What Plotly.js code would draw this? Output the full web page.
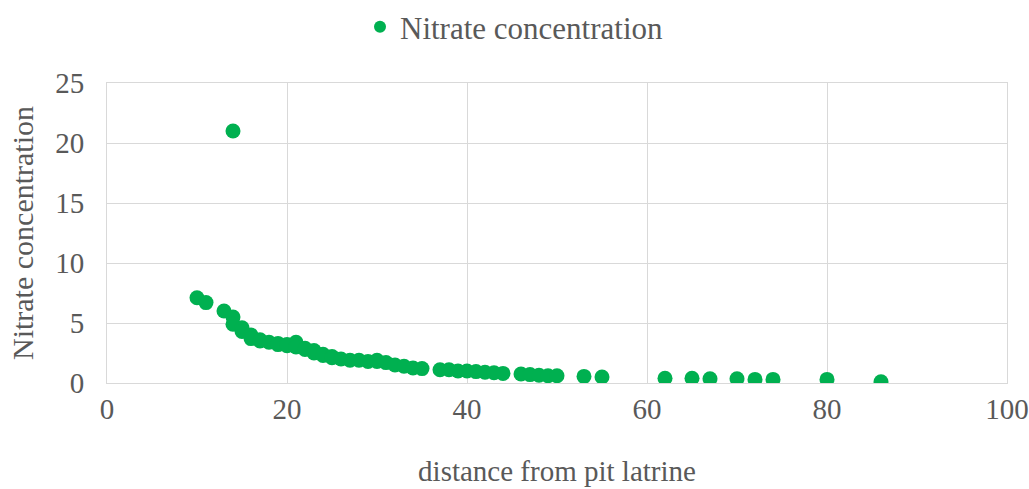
<!DOCTYPE html>
<html>
<head>
<meta charset="utf-8">
<script src="https://cdn.plot.ly/plotly-3.0.1.min.js"></script>
<style>html,body{margin:0;padding:0;background:#fff;}#chart{width:1029px;height:489px;}</style>
</head>
<body>
<div id="chart"></div>
<script>
const distance = [10,11,13,14,14,14,15,15,16,16,17,17,18,19,19,20,20,21,21,22,22,23,23,24,24,25,25,26,27,28,29,30,30,31,32,33,34,35,37,38,39,40,41,42,43,44,46,47,48,49,50,53,55,62,65,67,70,72,74,80,86];
const nitrate = [7.1,6.7,6.0,5.5,4.9,21.0,4.6,4.3,4.0,3.7,3.6,3.5,3.4,3.2,3.3,3.1,3.2,3.4,3.0,2.9,2.8,2.7,2.5,2.4,2.3,2.2,2.1,2.0,1.9,1.9,1.8,1.9,1.8,1.7,1.5,1.4,1.25,1.2,1.1,1.1,1.0,1.0,0.95,0.9,0.85,0.8,0.75,0.7,0.65,0.6,0.6,0.55,0.5,0.4,0.4,0.35,0.35,0.3,0.3,0.3,0.1];
const seriesName = "Nitrate concentration";
const xTitle = "distance from pit latrine";
const yTitle = "Nitrate concentration";

const font = {family: "Liberation Serif, Times New Roman, serif", color: "#595959"};
Plotly.newPlot("chart", [{
  x: distance, y: nitrate, type: "scatter", mode: "markers", name: seriesName,
  marker: {color: "#00b050", size: 15}
}], {
  width: 1029, height: 489,
  margin: {l: 107, r: 22, t: 83, b: 106},
  paper_bgcolor: "#fff", plot_bgcolor: "#fff",
  showlegend: true,
  legend: {orientation: "h", x: 0.5, xref: "container", xanchor: "center", y: 1.0, yref: "container", yanchor: "top",
           font: Object.assign({}, font, {size: 31}), itemsizing: "constant"},
  xaxis: {range: [0, 100], tickvals: [0,20,40,60,80,100], showgrid: true, gridcolor: "#d9d9d9", gridwidth: 1,
          zeroline: false, showline: true, linecolor: "#d9d9d9", mirror: true, ticks: "",
          tickfont: Object.assign({}, font, {size: 29}),
          title: {text: xTitle, font: Object.assign({}, font, {size: 29}), standoff: 36}},
  yaxis: {range: [0, 25], tickvals: [0,5,10,15,20,25], showgrid: true, gridcolor: "#d9d9d9", gridwidth: 1,
          zeroline: false, showline: true, linecolor: "#d9d9d9", mirror: true, ticks: "",
          ticklabelstandoff: 16,
          tickfont: Object.assign({}, font, {size: 29}),
          title: {text: yTitle, font: Object.assign({}, font, {size: 30}), standoff: 12}}
}, {displayModeBar: false, staticPlot: true});
</script>
</body>
</html>
